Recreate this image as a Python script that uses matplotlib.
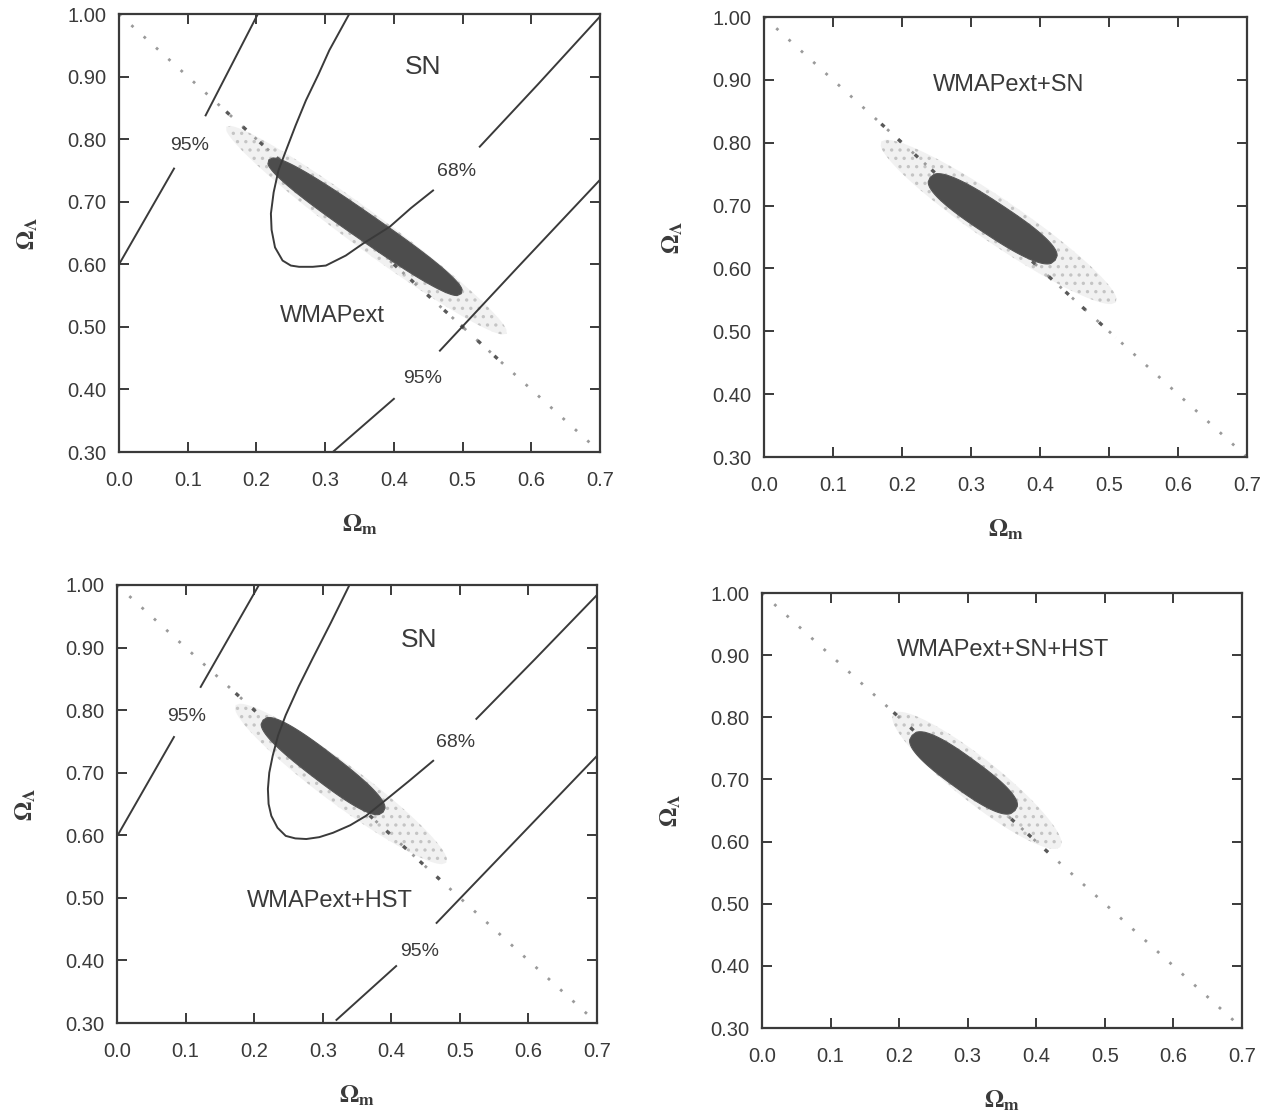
import numpy as np
import matplotlib
matplotlib.use("Agg")
import matplotlib.pyplot as plt

# --- 1. DATA ---
x_lim = (0.0, 0.7)
y_lim = (0.30, 1.00)
x_ticks = [0.0, 0.1, 0.2, 0.3, 0.4, 0.5, 0.6, 0.7]
y_ticks = [0.30, 0.40, 0.50, 0.60, 0.70, 0.80, 0.90, 1.00]

# flat universe line  Omega_L = 1 - Omega_m
flat_x = [0.0, 0.7]
flat_y = [1.0, 0.3]

# SN contours, top-left panel (each tuple = one drawn segment)
sn_tl_95_left = [([0.0, 0.080], [0.600, 0.753]),
                 ([0.126, 0.202], [0.838, 1.000])]
sn_tl_68 = [([0.335, 0.320, 0.306, 0.290, 0.272, 0.257, 0.243, 0.232, 0.225,
              0.221, 0.222, 0.227, 0.238, 0.250, 0.262, 0.282, 0.301, 0.330,
              0.355, 0.394, 0.425, 0.457],
             [1.000, 0.970, 0.942, 0.903, 0.862, 0.822, 0.782, 0.750, 0.715,
              0.681, 0.655, 0.627, 0.606, 0.598, 0.596, 0.596, 0.598, 0.614,
              0.633, 0.660, 0.690, 0.718]),
            ([0.525, 0.610, 0.700], [0.788, 0.888, 0.996])]
sn_tl_95_right = [([0.311, 0.400], [0.300, 0.385]),
                  ([0.467, 0.580, 0.700], [0.462, 0.595, 0.735])]

# SN contours, bottom-left panel
sn_bl_95_left = [([0.002, 0.083], [0.602, 0.757]),
                 ([0.122, 0.207], [0.837, 1.000])]
sn_bl_68 = [([0.339, 0.312, 0.285, 0.265, 0.246, 0.235, 0.227, 0.222, 0.220,
              0.221, 0.225, 0.234, 0.246, 0.260, 0.276, 0.295, 0.315, 0.340,
              0.363, 0.388, 0.425, 0.461],
             [1.000, 0.940, 0.882, 0.838, 0.792, 0.760, 0.727, 0.700, 0.674,
              0.650, 0.631, 0.612, 0.599, 0.595, 0.594, 0.597, 0.604, 0.616,
              0.631, 0.653, 0.686, 0.719]),
            ([0.524, 0.610, 0.700], [0.786, 0.882, 0.984])]
sn_bl_95_right = [([0.320, 0.407], [0.305, 0.391]),
                  ([0.466, 0.580, 0.700], [0.460, 0.590, 0.727])]

# WMAP-type regions: (upper-left end, lower-right end, half width in axes fraction)
dark_ends = {
    "tl": ((0.218, 0.767), (0.498, 0.553), 0.029),
    "tr": ((0.241, 0.745), (0.422, 0.613), 0.036),
    "bl": ((0.213, 0.784), (0.388, 0.637), 0.032),
    "br": ((0.219, 0.771), (0.369, 0.650), 0.036),
}
light_ends = {
    "tl": ((0.156, 0.820), (0.564, 0.489), 0.040),
    "tr": ((0.170, 0.802), (0.510, 0.546), 0.048),
    "bl": ((0.173, 0.808), (0.480, 0.556), 0.044),
    "br": ((0.192, 0.806), (0.435, 0.591), 0.048),
}

# text labels: (x, y, text, size)
labels = {
    "tl": [(0.442, 0.916, "SN", 19), (0.311, 0.518, "WMAPext", 17),
           (0.102, 0.790, "95%", 14), (0.491, 0.748, "68%", 14),
           (0.442, 0.418, "95%", 14)],
    "tr": [(0.355, 0.892, "WMAPext+SN", 17)],
    "bl": [(0.441, 0.912, "SN", 19), (0.310, 0.495, "WMAPext+HST", 17),
           (0.102, 0.790, "95%", 14), (0.493, 0.749, "68%", 14),
           (0.441, 0.415, "95%", 14)],
    "br": [(0.352, 0.908, "WMAPext+SN+HST", 17)],
}

# axes boxes in figure fraction
boxes = {
    "tl": [0.0936, 0.5935, 0.3781, 0.3939],
    "tr": [0.6006, 0.5890, 0.3797, 0.3957],
    "bl": [0.0920, 0.0800, 0.3774, 0.3940],
    "br": [0.5990, 0.0755, 0.3774, 0.3912],
}

ink = "#3a3a3a"
plt.rcParams['font.family'] = ['Liberation Sans', 'DejaVu Sans']
plt.rcParams['mathtext.fontset'] = 'stix'
plt.rcParams['hatch.linewidth'] = 1.2


def to_frac(x, y):
    return np.array([(x - x_lim[0]) / (x_lim[1] - x_lim[0]),
                     (y - y_lim[0]) / (y_lim[1] - y_lim[0])])


def cigar(ax, ends, power=2.6, **kw):
    # outline of an elongated blob between two end points, built in axes fraction
    (x0, y0), (x1, y1), hw = ends
    p0 = to_frac(x0, y0)
    p1 = to_frac(x1, y1)
    c = (p0 + p1) / 2
    u = (p1 - p0) / 2
    n = np.array([-u[1], u[0]]) / np.hypot(*u)
    t = np.linspace(-1, 1, 120)
    prof = (1 - np.abs(t) ** power) ** (1 / power)
    upper = c + np.outer(t, u) + np.outer(prof, n) * hw
    lower = c + np.outer(t[::-1], u) - np.outer(prof[::-1], n) * hw
    pts = np.vstack([upper, lower])
    px = pts[:, 0] * (x_lim[1] - x_lim[0]) + x_lim[0]
    py = pts[:, 1] * (y_lim[1] - y_lim[0]) + y_lim[0]
    ax.fill(px, py, **kw)


fig = plt.figure(figsize=(12.72, 11.12), dpi=100)

for key in ["tl", "tr", "bl", "br"]:
    ax = fig.add_axes(boxes[key])

    # light (95%) region as a stippled grey patch
    cigar(ax, light_ends[key], power=2.0, facecolor="#f1f1f1", edgecolor="#c4c4c4",
          hatch="..", linewidth=0, zorder=1)
    # dark (68%) region
    cigar(ax, dark_ends[key], power=2.6, facecolor="#4d4d4d", edgecolor="#555555",
          linewidth=0.8, zorder=3)

    # flat line, dotted; darker dots where it crosses the allowed region
    ax.plot(flat_x, flat_y, color="#9a9a9a", linestyle=(0, (1, 5)), lw=2.0, zorder=2)
    (lx0, _), (lx1, _), _ = light_ends[key]
    seg_x = np.array([lx0, lx1])
    ax.plot(seg_x, np.interp(seg_x, flat_x, flat_y), color="#595959",
            linestyle=(0, (1.3, 5.5)), lw=2.4, zorder=2)

    if key in ("tl", "bl"):
        segs = (sn_tl_95_left + sn_tl_68 + sn_tl_95_right) if key == "tl" else \
               (sn_bl_95_left + sn_bl_68 + sn_bl_95_right)
        for sx_, sy_ in segs:
            ax.plot(sx_, sy_, color=ink, lw=1.4, zorder=4)

    for tx, ty, txt, fs in labels[key]:
        ax.text(tx, ty, txt, fontsize=fs, color=ink, ha="center", va="center", zorder=5)

    ax.set_xlim(*x_lim)
    ax.set_ylim(*y_lim)
    ax.set_xticks(x_ticks)
    ax.set_yticks(y_ticks)
    ax.set_xticklabels([f"{v:.1f}" for v in x_ticks])
    ax.set_yticklabels([f"{v:.2f}" for v in y_ticks])
    ax.tick_params(direction="in", length=7, width=1.4, top=True, right=True,
                   labelsize=14.5, colors=ink)
    ax.tick_params(axis="x", pad=14)
    ax.tick_params(axis="y", pad=9)
    for sp in ax.spines.values():
        sp.set_linewidth(1.6)
        sp.set_color(ink)
    ax.set_xlabel(r"$\mathbf{\Omega_m}$", fontsize=18, color=ink, labelpad=16)
    ax.set_ylabel(r"$\mathbf{\Omega_\Lambda}$", fontsize=18, color=ink, labelpad=20)

plt.savefig("out.png", dpi=100)
